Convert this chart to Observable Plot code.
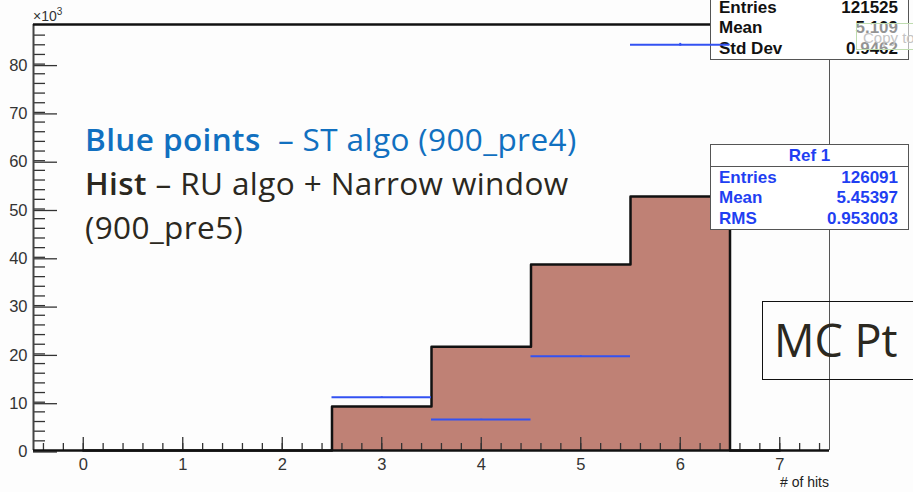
<!DOCTYPE html>
<html><head><meta charset="utf-8">
<script src="https://cdn.jsdelivr.net/npm/d3@7"></script>
<script src="https://cdn.jsdelivr.net/npm/@observablehq/plot@0.6"></script>
<style>
body{margin:0;background:#fff;}
#wrap{position:relative;width:913px;height:492px;overflow:hidden;font-family:"Liberation Sans",Arial,sans-serif;background:#fdfdfd;}
#wrap svg{position:absolute;left:0;top:0;}
.box{position:absolute;background:#fff;border:1.5px solid #555;box-sizing:border-box;}
.row{position:absolute;left:8px;right:10px;display:flex;justify-content:space-between;font-weight:bold;font-size:17px;line-height:20px;}
.note{position:absolute;font-family:"Open Sans",Lato,sans-serif;}
</style></head><body><div id="wrap"></div>
<script>
// ---- data (counts in units of 10^3) ----
const hits = [0, 1, 2, 3, 4, 5, 6, 7];
const histRU = [0, 0, 0, 9.1, 21.5, 38.5, 52.6, 0];      // Hist: RU algo + Narrow window (900_pre5)
const stHits = [3, 4, 5, 6];
const stValues = [11.0, 6.4, 19.5, 84.0];                  // Blue points: ST algo (900_pre4)
const stErrors = [0.10, 0.08, 0.14, 0.29];
const xTicks = [0, 1, 2, 3, 4, 5, 6, 7];
const yTicks = [0, 10, 20, 30, 40, 50, 60, 70, 80];
const xMinor = d3.range(-0.4, 7.5, 0.2).map(v => +v.toFixed(1));
const yMinor = d3.range(2, 88, 2);

const histData = hits.map((h, i) => ({h, v: histRU[i]}));
const stData = stHits.map((h, i) => ({h, v: stValues[i], e: stErrors[i]}));

const common = {
  width: 913, height: 492,
  marginLeft: 33, marginRight: 84, marginTop: 24, marginBottom: 42,
  style: {background: "transparent", fontFamily: "'Liberation Sans', Arial, sans-serif"}
};

const wrap = document.getElementById("wrap");

// Layer 1: histogram, axes, frame
const base = Plot.plot({
  ...common,
  x: {domain: [-0.5, 7.5]},
  y: {domain: [0, 88.2]},
  marks: [
    Plot.areaY(histData, {x: "h", y: "v", curve: "step", fill: "#bf8175"}),
    Plot.lineY(histData, {x: "h", y: "v", curve: "step", stroke: "#111", strokeWidth: 2.5}),
    Plot.axisX(xMinor, {tickSize: -7, tickFormat: () => "", label: null, stroke: "#333", strokeWidth: 1.3}),
    Plot.axisX(xTicks, {tickSize: -13, tickPadding: 21, label: null, fontSize: 16.5, fill: "#333", stroke: "#333", strokeWidth: 1.3}),
    Plot.axisY(yMinor, {tickSize: -12, tickFormat: () => "", label: null, stroke: "#333", strokeWidth: 1.3}),
    Plot.axisY(yTicks, {tickSize: -24, tickPadding: 30, label: null, fontSize: 16.5, fill: "#333", stroke: "#333", strokeWidth: 1.3, dy: 1.5}),
    Plot.ruleX([-0.5], {stroke: "#444", strokeWidth: 2}),
    Plot.ruleX([7.5], {stroke: "#555", strokeWidth: 1}),
    Plot.ruleY([0], {stroke: "#111", strokeWidth: 2.5}),
    Plot.ruleY([88.2], {stroke: "#111", strokeWidth: 2.5})
  ]
});
wrap.appendChild(base);

function el(html) { const d = document.createElement("div"); d.innerHTML = html; const n = d.firstElementChild; wrap.appendChild(n); return n; }

// ×10^3 and axis title
el(`<div style="position:absolute;left:33px;top:6px;font-size:14px;color:#333;">×10<sup style="font-size:10px;">3</sup></div>`);
el(`<div style="position:absolute;right:${913-829}px;top:474px;font-size:14px;color:#222;">#&nbsp;of hits</div>`);

// Stats box 1 (under the blue points)
el(`<div class="box" style="left:710px;top:-20px;width:199px;height:80px;color:#111;">
  <div class="row" style="top:17px;"><span>Entries</span><span>121525</span></div>
  <div class="row" style="top:37px;"><span>Mean</span><span>5.109</span></div>
  <div class="row" style="top:58px;"><span>Std Dev</span><span>0.9462</span></div>
</div>`);
el(`<div style="position:absolute;left:856px;top:23px;width:70px;height:27px;border:1px solid #bfdcb0;background:rgba(255,255,255,0.55);color:#c4c4c4;font-size:15px;line-height:27px;padding-left:6px;box-sizing:border-box;">Copy to</div>`);

// Layer 2: blue points
const pts = Plot.plot({
  ...common,
  x: {domain: [-0.5, 7.5], axis: null},
  y: {domain: [0, 88.2], axis: null},
  marks: [
    Plot.ruleY(stData, {y: "v", x1: d => d.h - 0.5, x2: d => d.h + 0.5, stroke: "#3352f2", strokeWidth: 2}),
    Plot.ruleX(stData, {x: "h", y1: d => d.v - d.e, y2: d => d.v + d.e, stroke: "#3352f2", strokeWidth: 2})
  ]
});
wrap.appendChild(pts);

// Stats box 2 (Ref 1)
el(`<div class="box" style="left:710px;top:144px;width:199px;height:86px;color:#1f3ff2;">
  <div style="position:absolute;left:0;right:0;top:0;height:21px;border-bottom:1.5px solid #555;text-align:center;font-weight:bold;font-size:17px;line-height:21px;">Ref 1</div>
  <div class="row" style="top:23px;"><span>Entries</span><span>126091</span></div>
  <div class="row" style="top:43px;"><span>Mean</span><span>5.45397</span></div>
  <div class="row" style="top:64px;"><span>RMS</span><span>0.953003</span></div>
</div>`);

// Annotation text
el(`<div class="note" style="left:85px;top:117px;font-size:31.5px;letter-spacing:0.4px;line-height:44px;color:#2b2820;white-space:nowrap;">
  <div style="color:#1170c0;"><b style="font-weight:600;">Blue points</b>&nbsp; – ST algo (900_pre4)</div>
  <div><b style="font-weight:600;">Hist</b> – RU algo + Narrow window</div>
  <div>(900_pre5)</div>
</div>`);

// MC Pt box
el(`<div class="note" style="left:762px;top:301px;width:170px;height:79px;border:1.5px solid #111;box-sizing:border-box;font-size:45px;line-height:76px;padding-left:11px;color:#2b2820;white-space:nowrap;">MC Pt</div>`);
</script>
</body></html>
